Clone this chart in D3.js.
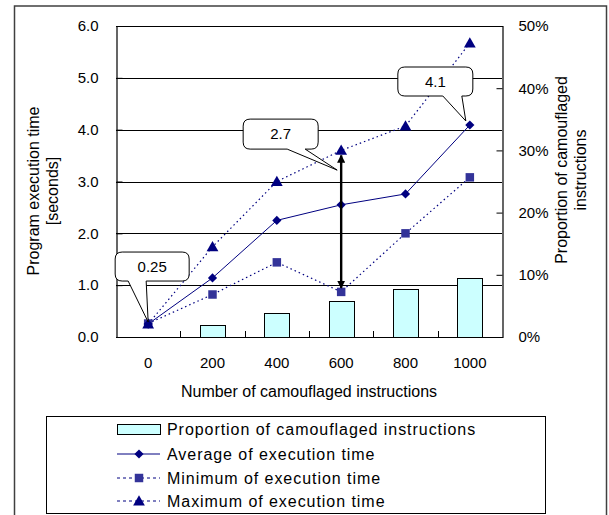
<!DOCTYPE html>
<html>
<head>
<meta charset="utf-8">
<script src="https://cdn.jsdelivr.net/npm/d3@7"></script>
<style>
  body { margin: 0; background: #fff; }
  svg { display: block; font-family: "Liberation Sans", Arial, sans-serif; }
</style>
</head>
<body>
<div id="chart"></div>
<script>
// chart values
const categories = ["0", "200", "400", "600", "800", "1000"];
const proportion = [0, 2.0, 3.9, 5.8, 7.7, 9.5];          // % (right axis)
const avgTime = [0.25, 1.14, 2.25, 2.55, 2.76, 4.09];    // seconds
const minTime = [0.26, 0.82, 1.44, 0.87, 2.0, 3.08];
const maxTime = [0.25, 1.74, 3.0, 3.6, 4.07, 5.67];
const leftTicks = [0, 1, 2, 3, 4, 5, 6];
const rightTicks = [0, 10, 20, 30, 40, 50];
const callouts = [
    { text: "0.25", index: 0, value: 0.25 },
    { text: "2.7", index: 3, value: 3.22 },
    { text: "4.1", index: 5, value: 4.09 }
];
const legendItems = [
    "Proportion of camouflaged instructions",
    "Average of execution time",
    "Minimum of execution time",
    "Maximum of execution time"
];

const W = 609, H = 515;
const plot = { left: 116, right: 502, top: 26, bottom: 337 };

const svg = d3.select("#chart").append("svg")
    .attr("width", W)
    .attr("height", H);

// outer chart frame (runs past the bottom of the picture)
svg.append("rect")
    .attr("x", 14.5).attr("y", 6)
    .attr("width", 592).attr("height", 530)
    .attr("fill", "#fff")
    .attr("stroke", "#404040")
    .attr("stroke-width", 1.5);

const x = d3.scaleBand()
    .domain(categories)
    .range([plot.left, plot.right])
    .padding(0);

const y = d3.scaleLinear()
    .domain([0, 6])
    .range([plot.bottom, plot.top]);

const yR = d3.scaleLinear()
    .domain([0, 50])
    .range([plot.bottom, plot.top]);

const cx = i => x(categories[i]) + x.bandwidth() / 2;

// gridlines
svg.append("g")
    .selectAll("line")
    .data(leftTicks.filter(d => d > 0))
    .join("line")
    .attr("x1", plot.left).attr("x2", plot.right)
    .attr("y1", d => Math.round(y(d)) + 0.5)
    .attr("y2", d => Math.round(y(d)) + 0.5)
    .attr("stroke", "#000")
    .attr("stroke-width", 1);

// bars
svg.append("g")
    .selectAll("rect")
    .data(proportion)
    .join("rect")
    .attr("x", (d, i) => Math.round(cx(i) - 12.5) + 0.5)
    .attr("width", 25)
    .attr("y", d => Math.round(yR(d)) + 0.5)
    .attr("height", d => plot.bottom - Math.round(yR(d)))
    .attr("fill", "#ccffff")
    .attr("stroke", "#000")
    .attr("stroke-width", 1);

// axes
const gLeft = svg.append("g")
    .attr("transform", `translate(${plot.left + 0.5},0)`)
    .call(d3.axisLeft(y).tickValues(leftTicks).tickFormat(d3.format(".1f"))
        .tickSize(-6).tickPadding(18));

const gRight = svg.append("g")
    .attr("transform", `translate(${plot.right + 0.5},0)`)
    .call(d3.axisRight(yR).tickValues(rightTicks).tickFormat(d => d + "%")
        .tickSize(-6).tickPadding(16));

const gBottom = svg.append("g")
    .attr("transform", `translate(0,${plot.bottom + 0.5})`)
    .call(d3.axisBottom(x).tickSize(0).tickPadding(20));

[gLeft, gRight, gBottom].forEach(g => {
    g.select(".domain").attr("stroke", "#000").attr("stroke-width", 1.2);
    g.selectAll(".tick line").attr("stroke", "#000");
    g.selectAll(".tick text")
        .style("font-size", "15px")
        .style("fill", "#000")
        .style("font-family", "\"Liberation Sans\", Arial, sans-serif");
});
gBottom.select(".domain").attr("d", `M${plot.left},0H${plot.right}`);

// category boundary ticks on the x axis
svg.append("g")
    .selectAll("line")
    .data(categories.slice(1))
    .join("line")
    .attr("x1", d => Math.round(x(d)) + 0.5)
    .attr("x2", d => Math.round(x(d)) + 0.5)
    .attr("y1", plot.bottom)
    .attr("y2", plot.bottom - 6)
    .attr("stroke", "#000");

// axis titles
svg.append("text")
    .attr("x", (plot.left + plot.right) / 2)
    .attr("y", 397)
    .attr("text-anchor", "middle")
    .style("font-size", "16px")
    .text("Number of camouflaged instructions");

const leftTitle = svg.append("text")
    .attr("transform", "translate(39,191) rotate(-90)")
    .attr("text-anchor", "middle")
    .style("font-size", "16px");
leftTitle.append("tspan").attr("x", 0).attr("y", 0).text("Program execution time");
leftTitle.append("tspan").attr("x", 0).attr("y", 19).text("[seconds]");

const rightTitle = svg.append("text")
    .attr("transform", "translate(567,170) rotate(-90)")
    .attr("text-anchor", "middle")
    .style("font-size", "16px");
rightTitle.append("tspan").attr("x", 0).attr("y", 0).text("Proportion of camouflaged");
rightTitle.append("tspan").attr("x", 0).attr("y", 19).text("instructions");

// series lines
const lineOf = values => d3.line()
    .x((d, i) => cx(i))
    .y(d => y(d))(values);

svg.append("path")
    .attr("d", lineOf(maxTime))
    .attr("fill", "none")
    .attr("stroke", "#000080")
    .attr("stroke-width", 1.2)
    .attr("stroke-dasharray", "1.5,3");

svg.append("path")
    .attr("d", lineOf(minTime))
    .attr("fill", "none")
    .attr("stroke", "#000080")
    .attr("stroke-width", 1.2)
    .attr("stroke-dasharray", "1.5,3");

svg.append("path")
    .attr("d", lineOf(avgTime))
    .attr("fill", "none")
    .attr("stroke", "#000080")
    .attr("stroke-width", 1);

// markers
const diamond = d3.symbol().type(d3.symbolSquare).size(42);
const square = d3.symbol().type(d3.symbolSquare).size(72);
const triangle = d3.symbol().type(d3.symbolTriangle).size(60);

svg.append("g")
    .selectAll("path")
    .data(minTime)
    .join("path")
    .attr("d", square)
    .attr("transform", (d, i) => `translate(${cx(i)},${y(d)})`)
    .attr("fill", "#333399");

svg.append("g")
    .selectAll("path")
    .data(avgTime)
    .join("path")
    .attr("d", diamond)
    .attr("transform", (d, i) => `translate(${cx(i)},${y(d)}) rotate(45)`)
    .attr("fill", "#000080");

svg.append("g")
    .selectAll("path")
    .data(maxTime)
    .join("path")
    .attr("d", triangle)
    .attr("transform", (d, i) => `translate(${cx(i)},${y(d) + 1})`)
    .attr("fill", "#000080");

// double-headed range arrow at 600
const defs = svg.append("defs");
defs.append("marker")
    .attr("id", "head")
    .attr("viewBox", "0 0 10 10")
    .attr("refX", 9).attr("refY", 5)
    .attr("markerWidth", 3.4).attr("markerHeight", 3.4)
    .attr("orient", "auto-start-reverse")
    .append("path")
    .attr("d", "M0,0L10,5L0,10Z")
    .attr("fill", "#000");

svg.append("line")
    .attr("x1", cx(3)).attr("x2", cx(3))
    .attr("y1", y(maxTime[3]) + 5)
    .attr("y2", y(minTime[3]) - 4)
    .attr("stroke", "#000")
    .attr("stroke-width", 2.4)
    .attr("marker-start", "url(#head)")
    .attr("marker-end", "url(#head)");

// callouts: box offsets relative to the tip
const calloutBoxes = [
    { bx: -33, by: -70, bw: 74, bh: 29, p1: -20, p2: -2, tx: 0, ty: -2 },
    { bx: -94, by: -51, bw: 75, bh: 30, p1: -50, p2: -32, tx: -4, ty: 0 },
    { bx: -68, by: -54, bw: 75, bh: 29, p1: -23, p2: -4, tx: -4, ty: -4 }
];

const cg = svg.append("g");
callouts.forEach((c, k) => {
    const b = calloutBoxes[k];
    const tipX = cx(c.index) + b.tx;
    const tipY = y(c.value) + b.ty;
    const x0 = tipX + b.bx, y0 = tipY + b.by;
    const r = 7;
    const bottom = y0 + b.bh;
    const path = d3.path();
    path.moveTo(x0 + r, y0);
    path.lineTo(x0 + b.bw - r, y0);
    path.quadraticCurveTo(x0 + b.bw, y0, x0 + b.bw, y0 + r);
    path.lineTo(x0 + b.bw, bottom - r);
    path.quadraticCurveTo(x0 + b.bw, bottom, x0 + b.bw - r, bottom);
    path.lineTo(tipX + b.p2, bottom);
    path.lineTo(tipX, tipY);
    path.lineTo(tipX + b.p1, bottom);
    path.lineTo(x0 + r, bottom);
    path.quadraticCurveTo(x0, bottom, x0, bottom - r);
    path.lineTo(x0, y0 + r);
    path.quadraticCurveTo(x0, y0, x0 + r, y0);
    path.closePath();
    cg.append("path")
        .attr("d", path.toString())
        .attr("fill", "#fff")
        .attr("stroke", "#000")
        .attr("stroke-width", 1);
    cg.append("text")
        .attr("x", x0 + b.bw / 2)
        .attr("y", y0 + b.bh / 2 + 5)
        .attr("text-anchor", "middle")
        .style("font-size", "15px")
        .text(c.text);
});

// legend
const legend = svg.append("g").attr("transform", "translate(46,416)");
legend.append("rect")
    .attr("x", 0.5).attr("y", 0.5)
    .attr("width", 499).attr("height", 97)
    .attr("fill", "#fff")
    .attr("stroke", "#000")
    .attr("stroke-width", 1);

const rowY = [13, 38, 62, 85];
const sx0 = 71, sx1 = 114, smid = 93;

legend.append("rect")
    .attr("x", sx0 + 0.5).attr("y", rowY[0] - 4.5)
    .attr("width", sx1 - sx0).attr("height", 10)
    .attr("fill", "#ccffff")
    .attr("stroke", "#000");

legend.append("line")
    .attr("x1", sx0).attr("x2", sx1)
    .attr("y1", rowY[1]).attr("y2", rowY[1])
    .attr("stroke", "#000080");
legend.append("path")
    .attr("d", diamond)
    .attr("transform", `translate(${smid},${rowY[1]}) rotate(45)`)
    .attr("fill", "#000080");

[2, 3].forEach(k => {
    legend.append("line")
        .attr("x1", sx0).attr("x2", sx1)
        .attr("y1", rowY[k]).attr("y2", rowY[k])
        .attr("stroke", "#000080")
        .attr("stroke-dasharray", "3,3");
});
legend.append("path")
    .attr("d", square)
    .attr("transform", `translate(${smid},${rowY[2]})`)
    .attr("fill", "#333399");
legend.append("path")
    .attr("d", triangle)
    .attr("transform", `translate(${smid},${rowY[3] + 1})`)
    .attr("fill", "#000080");

legend.selectAll("text.item")
    .data(legendItems)
    .join("text")
    .attr("class", "item")
    .attr("x", 121)
    .attr("y", (d, i) => rowY[i] + 6)
    .style("font-size", "16px")
    .style("letter-spacing", "0.95px")
    .text(d => d);
</script>
</body>
</html>
